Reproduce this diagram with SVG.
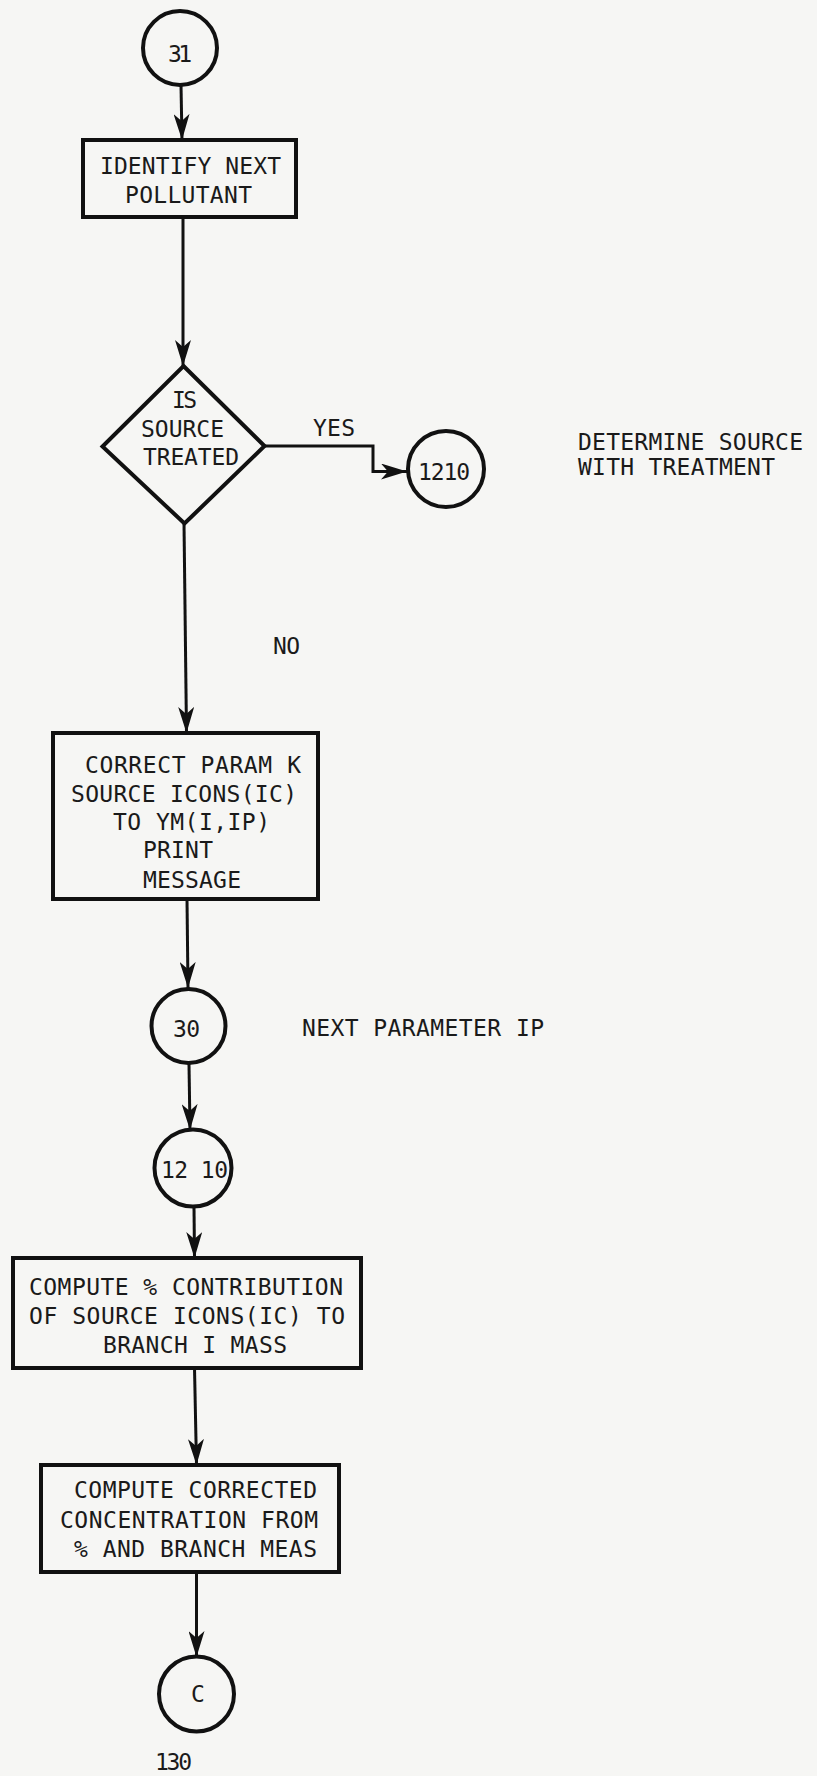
<svg xmlns="http://www.w3.org/2000/svg" width="817" height="1776" viewBox="0 0 817 1776">
<style>
.bg{fill:#f6f6f4}
.shape{fill:none;stroke:#111;stroke-width:4}
.conn{fill:none;stroke:#111;stroke-width:3}
text{font-family:"DejaVu Sans Mono","Liberation Mono",monospace;fill:#1a1a1a;font-size:23px}
</style>
<defs>
<marker id="ah" viewBox="0 0 26 16" refX="26" refY="8" markerWidth="26" markerHeight="16" markerUnits="userSpaceOnUse" orient="auto">
<path d="M0,0 L26,8 L0,16 L7,8 Z" fill="#111"/>
</marker>
</defs>
<rect class="bg" x="0" y="0" width="817" height="1776"/>

<g id="connectors">
<path class="conn" d="M181,85 L182,140" marker-end="url(#ah)"/>
<path class="conn" d="M183,217 L183,366" marker-end="url(#ah)"/>
<path class="conn" d="M184,523 L186.5,733" marker-end="url(#ah)"/>
<path class="conn" d="M264,446 L373,446 L373,471.5 L407,471.5" marker-end="url(#ah)"/>
<path class="conn" d="M187,899 L188,988" marker-end="url(#ah)"/>
<path class="conn" d="M189,1064 L190,1130" marker-end="url(#ah)"/>
<path class="conn" d="M194,1207 L194.5,1258" marker-end="url(#ah)"/>
<path class="conn" d="M194.5,1368 L196.5,1465" marker-end="url(#ah)"/>
<path class="conn" d="M196.5,1572 L196.5,1657" marker-end="url(#ah)"/>
<text x="313" y="436" textLength="42" lengthAdjust="spacing">YES</text>
<text x="273" y="654" font-size="20" textLength="27" lengthAdjust="spacing">NO</text>
</g>

<g id="n31">
<circle class="shape" cx="180" cy="48" r="37"/>
<text x="168" y="62" font-size="27" textLength="24" lengthAdjust="spacing">31</text>
</g>

<g id="identify">
<rect class="shape" x="83" y="140" width="213" height="77"/>
<text x="100" y="174" textLength="181" lengthAdjust="spacing">IDENTIFY NEXT</text>
<text x="125" y="203" textLength="127" lengthAdjust="spacing">POLLUTANT</text>
</g>

<g id="treated">
<polygon class="shape" points="183.5,366 264.5,446 184.5,523.5 102.5,446.5"/>
<text x="172" y="408" textLength="25" lengthAdjust="spacing">IS</text>
<text x="141" y="437" textLength="83" lengthAdjust="spacing">SOURCE</text>
<text x="143" y="465" textLength="96" lengthAdjust="spacing">TREATED</text>
</g>

<g id="n1210">
<circle class="shape" cx="446" cy="469" r="38"/>
<text x="418" y="480" textLength="52" lengthAdjust="spacing">1210</text>
</g>

<g id="note1210">
<text x="578" y="450" textLength="225" lengthAdjust="spacing">DETERMINE SOURCE</text>
<text x="578" y="475" textLength="197" lengthAdjust="spacing">WITH TREATMENT</text>
</g>

<g id="correct">
<rect class="shape" x="53" y="733" width="265" height="166"/>
<text x="85" y="773" textLength="216" lengthAdjust="spacing">CORRECT PARAM K</text>
<text x="71" y="802" textLength="226" lengthAdjust="spacing">SOURCE ICONS(IC)</text>
<text x="113" y="830" textLength="157" lengthAdjust="spacing">TO YM(I,IP)</text>
<text x="143" y="858" textLength="70" lengthAdjust="spacing">PRINT</text>
<text x="143" y="888" textLength="98" lengthAdjust="spacing">MESSAGE</text>
</g>

<g id="n30">
<circle class="shape" cx="188.5" cy="1026" r="37"/>
<text x="173" y="1037" textLength="27" lengthAdjust="spacing">30</text>
</g>

<g id="note30">
<text x="302" y="1036" textLength="242" lengthAdjust="spacing">NEXT PARAMETER IP</text>
</g>

<g id="n1210b">
<circle class="shape" cx="193" cy="1168" r="38.5"/>
<text x="161" y="1178" textLength="67" lengthAdjust="spacing">12 10</text>
</g>

<g id="contribution">
<rect class="shape" x="13" y="1258" width="348" height="110"/>
<text x="29" y="1295" textLength="314" lengthAdjust="spacing">COMPUTE % CONTRIBUTION</text>
<text x="29" y="1324" textLength="316" lengthAdjust="spacing">OF SOURCE ICONS(IC) TO</text>
<text x="103" y="1353" textLength="184" lengthAdjust="spacing">BRANCH I MASS</text>
</g>

<g id="corrected">
<rect class="shape" x="41" y="1465" width="298" height="107"/>
<text x="74" y="1498" textLength="243" lengthAdjust="spacing">COMPUTE CORRECTED</text>
<text x="60" y="1528" textLength="258" lengthAdjust="spacing">CONCENTRATION FROM</text>
<text x="74" y="1557" textLength="243" lengthAdjust="spacing">% AND BRANCH MEAS</text>
</g>

<g id="nC">
<circle class="shape" cx="196.5" cy="1694" r="37.5"/>
<text x="191" y="1702" font-size="21" textLength="11" lengthAdjust="spacing">C</text>
<text x="155" y="1770" font-size="21" textLength="37" lengthAdjust="spacing">130</text>
</g>
</svg>
